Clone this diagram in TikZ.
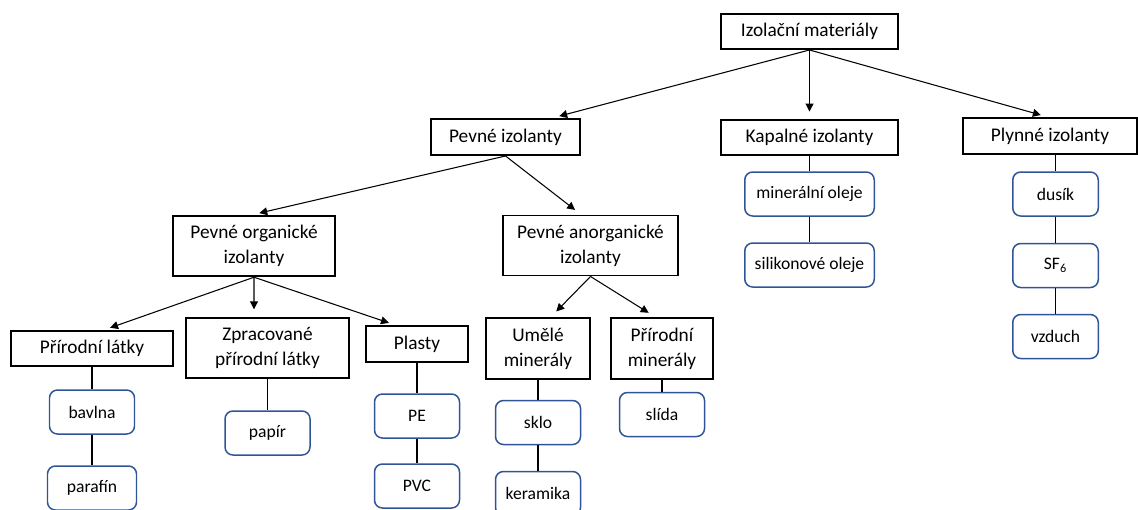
\documentclass[tikz,border=0pt]{standalone}
\usepackage{fontspec}
\setmainfont{Carlito}
\usetikzlibrary{arrows.meta, positioning}

\definecolor{itemblue}{RGB}{47,85,151}

\begin{document}
\begin{tikzpicture}[node distance = 1.42cm, on grid,
    group/.style = {draw, line width=1.1pt, align=center, inner sep=2pt,
      font=\fontsize{11}{14.2}\selectfont},
    item/.style = {draw=itemblue, line width=0.85pt, rounded corners=4.5pt,
      minimum width=1.7cm, minimum height=0.88cm, font=\fontsize{10}{12}\selectfont},
    tip/.style = {-{Triangle[width=4.5pt, length=4.5pt]}, shorten >= 0.15cm},
    link/.style = {line width=0.6pt}]
  \clip (0,0) rectangle (22.76,-10.18);
  \node[group, minimum width=3.54cm, minimum height=0.7cm] (izol) at (16.19,-0.63) {Izolační materiály};
  \node[group, minimum width=2.98cm, minimum height=0.72cm] (pevne) at (10.11,-2.74) {Pevné izolanty};
  \node[group, minimum width=3.54cm, minimum height=0.7cm] (kapalne) at (16.19,-2.75) {Kapalné izolanty};
  \node[group, minimum width=3.48cm, minimum height=0.72cm] (plynne) at (21.0,-2.72) {Plynné izolanty};
  \node[group, minimum width=3.25cm, minimum height=1.21cm] (organ) at (5.08,-4.92) {Pevné organické\\izolanty};
  \node[group, minimum width=3.51cm, minimum height=1.2cm] (anorgan) at (11.81,-4.91) {Pevné anorganické\\izolanty};
  \node[group, minimum width=3.25cm, minimum height=0.69cm] (prirodni) at (1.84,-6.97) {Přírodní látky};
  \node[group, minimum width=3.25cm, minimum height=1.21cm] (zprac) at (5.35,-6.96) {Zpracované\\přírodní látky};
  \node[group, minimum width=2.05cm, minimum height=0.71cm] (plasty) at (8.34,-6.88) {Plasty};
  \node[group, minimum width=2.07cm, minimum height=1.23cm] (umele) at (10.76,-6.97) {Umělé\\minerály};
  \node[group, minimum width=2.05cm, minimum height=1.23cm] (prmin) at (13.24,-6.97) {Přírodní\\minerály};

  \node[item] (bavlna) [below=1.27cm of prirodni] {bavlna};
  \node[item, minimum width=1.78cm] (parafin) [below=1.52cm of bavlna] {parafín};
  \node[item] (papir) [below=1.7cm of zprac] {papír};
  \node[item] (pe) [below=1.44cm of plasty] {PE};
  \node[item] (pvc) [below=1.4cm of pe] {PVC};
  \node[item] (sklo) [below=1.48cm of umele] {sklo};
  \node[item] (keramika) [below of=sklo] {keramika};
  \node[item] (slida) [below=1.32cm of prmin] {slída};
  \node[item, minimum width=2.59cm] (mineral) [below=1.13cm of kapalne] {minerální oleje};
  \node[item, minimum width=2.59cm] (silikon) [below of=mineral] {silikonové oleje};
  \node[item, minimum width=1.71cm] (dusik) at (21.11,-3.88) {dusík};
  \node[item, minimum width=1.71cm] (sf) [below=1.43cm of dusik] {SF\textsubscript{6}};
  \node[item, minimum width=1.71cm] (vzduch) [below=1.42cm of sf] {vzduch};

  \path[link, tip]
    (izol.south) edge ([xshift=0.93cm]pevne.north)
                 edge (kapalne.north)
                 edge ([xshift=-0.04cm]plynne.north)
    (pevne.south) edge ([xshift=-0.04cm]organ.north)
                  edge ([xshift=-0.19cm]anorgan.north)
    (organ.south) edge ([xshift=0.22cm]prirodni.north)
                  edge ([xshift=-0.27cm]zprac.north)
                  edge ([xshift=-0.42cm]plasty.north)
    (anorgan.south) edge ([xshift=0.26cm]umele.north)
                    edge ([xshift=-0.14cm]prmin.north);
  \path[link]
    (prirodni) edge (bavlna)
    (bavlna) edge (parafin)
    (zprac) edge (papir)
    (plasty) edge (pe)
    (pe) edge (pvc)
    (umele) edge (sklo)
    (sklo) edge (keramika)
    (prmin) edge (slida)
    (kapalne) edge (mineral)
    (mineral) edge (silikon)
    (plynne.south -| dusik) edge (dusik)
    (dusik) edge (sf)
    (sf) edge (vzduch);
\end{tikzpicture}
\end{document}
